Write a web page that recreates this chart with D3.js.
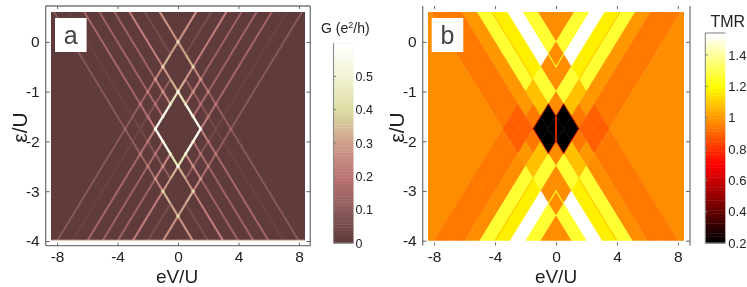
<!DOCTYPE html>
<html><head><meta charset="utf-8">
<script src="https://cdn.jsdelivr.net/npm/d3@7"></script>
<style>
html,body{margin:0;padding:0;background:#fff}
svg{display:block;filter:blur(.3px)}
svg text{font-family:"Liberation Sans",Arial,sans-serif;fill:#222}
</style></head><body><svg id="c" width="747" height="287"></svg>
<script>
// ---------- data ----------
const voltageTicks = [-8,-4,0,4,8];
const energyTicks  = [0,-1,-2,-3,-4];
const conductanceTicks = [0,0.1,0.2,0.3,0.4,0.5];
const tmrTicks = [0.2,0.4,0.6,0.8,1,1.2,1.4];
// transition lines: eps +- eV/2 = c
const lineOffsets = [0,-0.5,-1,-1.5,-2,-2.5,-3,-3.5];
// conductance along each transition line, one value per band between the crossing family's offsets
const gLine0 = [.24,.27,.30,.22,.15,.12,.10,.09,.08];
const gLine1 = [.05,0,0,.10,.10,.07,.04,.03,.02];
const gLine2 = [.20,.25,.30,.40,.50,.52,.20,.15,.13];
const gLine3 = [.12,.20,.22,0,0,0,.15,.14,.12];
const gLine4 = [.12,.14,.15,0,0,0,.22,.20,.12];
const gLine5 = [.13,.15,.20,.52,.50,.40,.30,.25,.20];
const gLine6 = [.02,.03,.04,.07,.10,.10,0,0,.05];
const gLine7 = [.08,.09,.10,.12,.15,.22,.30,.27,.24];
// TMR in each rhomboid cell (upper triangle; rows = band of eps-eV/2, columns = band of eps+eV/2)
const tmrRow0 = [.98,1.27,1.54,1.175,1.27,1.0,.94,.94,.98];
const tmrRow1 = [.98,.98,1.27,1.08,1.0,.89,.89,.94];
const tmrRow2 = [.98,1.27,1.08,.94,.89,.89,.94];
const tmrRow3 = [.98,.2,.2,.94,1.0,.98];
const tmrRow4 = [.2,.2,1.08,1.08,1.27];
const tmrRow5 = [.98,1.27,1.27,1.175];
const tmrRow6 = [.98,.98,1.54];
const tmrRow7 = [.98,1.27];
const tmrRow8 = [.98];
// thin features of the TMR map: [line family, offset, from, to, TMR]
const tmrThin = [
 ['p',-.5,0,-.5,1.25],['q',-3,-3,-3.5,1.25],
 ['p',-1.5,9,0,1.1],['q',-2,-3.5,-14,1.1],
 ['q',-1,-1.5,-2.5,.62],['p',-2.5,-1,-2,.62],['p',-1.5,-1,-1.5,.62],['q',-2,-2,-2.5,.62]
];
const tmrGap = [[-1.5,-2,.8]];

// ---------- colour scales ----------
const gColor = d3.scaleLinear().domain([0,.1,.2,.3,.4,.5,.6])
  .range(['#603b3b','#8e5c5c','#bc7474','#cfa08c','#dcdca2','#f2f2d2','#ffffff']);
const hot = t=>{const r=Math.min(1,t/.375),g=Math.max(0,Math.min(1,(t-.375)/.375)),b=Math.max(0,Math.min(1,(t-.75)/.25));
  return d3.rgb(r*255,g*255,b*255).formatHex();};
const tmrT = d3.scaleLinear().domain([.2,1.54]).range([0,1]).clamp(true);
const tColor = v=>hot(tmrT(v));

// ---------- layout ----------
const svg = d3.select('#c');
const defs = svg.append('defs');
const blur=(id,s)=>defs.append('filter').attr('id',id).attr('x','-5%').attr('y','-5%').attr('width','110%').attr('height','110%')
  .attr('filterUnits','objectBoundingBox').append('feGaussianBlur').attr('stdDeviation',s);
blur('ba',.55); blur('bb',.35);
const gRows=[gLine0,gLine1,gLine2,gLine3,gLine4,gLine5,gLine6,gLine7];
const tRows=[tmrRow0,tmrRow1,tmrRow2,tmrRow3,tmrRow4,tmrRow5,tmrRow6,tmrRow7,tmrRow8];
const FAR_HI=9, FAR_LO=-14;
const bandTop=i=> i===0?FAR_HI:lineOffsets[i-1];
const bandBot=i=> i===lineOffsets.length?FAR_LO:lineOffsets[i];

function panel(o){
  const x=d3.scaleLinear().domain([-8.4,8.4]).range([o.x0,o.x1]);
  const y=d3.scaleLinear().domain([-4,.6]).range([o.y1,o.y0]);
  // p = eps+V/2, q = eps-V/2
  const px=(p,q)=>x(p-q), py=(p,q)=>y((p+q)/2);
  const g=svg.append('g');
  defs.append('clipPath').attr('id','clip'+o.id).append('rect')
    .attr('x',o.x0).attr('y',o.y0).attr('width',o.x1-o.x0).attr('height',o.y1-o.y0);
  const plot=g.append('g').attr('clip-path',`url(#clip${o.id})`).append('g').attr('filter',`url(#b${o.id})`);
  o.draw(plot,px,py,x,y);
  // frame
  const fr=g.append('g').attr('fill','none').attr('stroke','#777').attr('stroke-width',1.3);
  const L=o.fx0,R=o.fx1,T=o.fy0,B=o.fy1;
  fr.append('line').attr('x1',L).attr('x2',L).attr('y1',T).attr('y2',B);
  fr.append('line').attr('x1',R).attr('x2',R).attr('y1',T).attr('y2',B);
  if(o.hlines){fr.append('line').attr('x1',L).attr('x2',R).attr('y1',T).attr('y2',T);
    fr.append('line').attr('x1',L).attr('x2',R).attr('y1',B).attr('y2',B);}
  const hy=d3.format('d');
  const fmt=d=>hy(d).replace('\u2212','-');
  const ax=(gen,tx,ty,labels)=>{const s=g.append('g').attr('transform',`translate(${tx},${ty})`).call(gen);
    s.select('.domain').remove(); s.selectAll('line').attr('stroke','#666').attr('stroke-width',1);
    s.selectAll('text').style('font-size',o.tickFont+'px'); if(!labels) s.selectAll('text').remove(); return s;};
  ax(d3.axisBottom(x).tickValues(voltageTicks).tickSize(-3).tickPadding(5).tickFormat(fmt),0,B,true);
  ax(d3.axisTop(x).tickValues(voltageTicks).tickSize(-3),0,T,false);
  ax(d3.axisLeft(y).tickValues(energyTicks).tickSize(-4).tickPadding(6).tickFormat(fmt),L,0,true);
  ax(d3.axisRight(y).tickValues(energyTicks).tickSize(-4),R,0,false);
  // panel label
  g.append('rect').attr('x',o.lx).attr('y',18).attr('width',31.6).attr('height',34).attr('fill','#fff');
  g.append('text').attr('x',o.lx+15.8).attr('y',44).attr('text-anchor','middle').style('font-size','25px').style('fill','#444').text(o.id==='a'?'a':'b');
  g.append('text').attr('x',o.tx).attr('y',283).attr('text-anchor','middle').style('font-size','19px').text('eV/U');
  g.append('text').attr('transform',`translate(${o.ty},127.5) rotate(-90)`).attr('text-anchor','middle').style('font-size','21px').text('ε/U');
}

// panel a
panel({id:'a',x0:51,x1:305,y0:12,y1:241,fx0:45.7,fx1:310.3,fy0:6,fy1:245.7,hlines:true,tickFont:15.5,lx:55,tx:177,ty:27,
 draw(plot,px,py,x,y){
  plot.append('rect').attr('x',40).attr('y',0).attr('width',280).attr('height',260).attr('fill',gColor(0));
  const segs=[];
  gRows.forEach((row,k)=>row.forEach((G,i)=>{ if(G<=0) return;
     segs.push({G,p:lineOffsets[k],a:bandTop(i),b:bandBot(i),flip:false});
     segs.push({G,p:lineOffsets[k],a:bandTop(i),b:bandBot(i),flip:true});}));
  segs.sort((m,n)=>m.G-n.G);
  plot.selectAll('line.s').data(segs).join('line').attr('class','s')
    .attr('x1',d=>d.flip?px(d.a,d.p):px(d.p,d.a)).attr('y1',d=>py(d.p,d.a))
    .attr('x2',d=>d.flip?px(d.b,d.p):px(d.p,d.b)).attr('y2',d=>py(d.p,d.b))
    .attr('stroke',d=>gColor(d.G*1.1)).attr('stroke-width',d=>1.9+d.G*.9);
  // brighter crossings
  const nodes=[];
  lineOffsets.forEach((p,k)=>lineOffsets.forEach((q,m)=>{
    const s=(gRows[k][m]+gRows[k][m+1])/2+(gRows[m][k]+gRows[m][k+1])/2;
    if(Math.min(gRows[k][m]+gRows[k][m+1],gRows[m][k]+gRows[m][k+1])>.1) nodes.push({p,q,s});}));
  nodes.sort((m,n)=>m.s-n.s);
  plot.selectAll('circle').data(nodes).join('circle').attr('cx',d=>px(d.p,d.q)).attr('cy',d=>py(d.p,d.q))
    .attr('r',1.6).attr('fill',d=>gColor(Math.min(.6,d.s*.85)));
  plot.append('line').datum(-4).attr('x1',40).attr('x2',320).attr('y1',d=>y(d)-.5).attr('y2',d=>y(d)-.5)
    .attr('stroke','#e6c8bc').attr('stroke-width',1.4);
 }});

// panel b
panel({id:'b',x0:428,x1:684,y0:12,y1:240.7,fx0:422.7,fx1:690,fy0:6,fy1:245.5,hlines:false,tickFont:15.5,lx:431.7,tx:556,ty:404,
 draw(plot,px,py,x,y){
  const cells=[];
  tRows.forEach((row,i)=>row.forEach((v,n)=>{const j=i+n;
    cells.push({i,j,v}); if(i!==j) cells.push({i:j,j:i,v});}));
  plot.selectAll('polygon').data(cells).join('polygon')
    .attr('points',d=>{const qa=bandTop(d.i),qb=bandBot(d.i),pa=bandTop(d.j),pb=bandBot(d.j);
      return [[pa,qa],[pb,qa],[pb,qb],[pa,qb]].map(([p,q])=>[px(p,q),py(p,q)].join(',')).join(' ');})
    .attr('fill',d=>tColor(d.v)).attr('stroke',d=>tColor(d.v)).attr('stroke-width',.5);
  const thin=[];
  tmrThin.forEach(([f,c,a,b,v])=>{
    const pts=f==='p'?[[c,a],[c,b]]:[[a,c],[b,c]];
    thin.push({pts,v}); thin.push({pts:pts.map(([p,q])=>[q,p]),v});});
  plot.selectAll('line.t').data(thin).join('line').attr('class','t')
    .attr('x1',d=>px(...d.pts[0])).attr('y1',d=>py(...d.pts[0]))
    .attr('x2',d=>px(...d.pts[1])).attr('y2',d=>py(...d.pts[1]))
    .attr('stroke',d=>tColor(d.v)).attr('stroke-width',d=>d.v<.7?.8:1.1).attr('stroke-linecap','round');
  plot.selectAll('line.g').data(tmrGap).join('line').attr('class','g')
    .attr('x1',d=>px(d[0],d[0])).attr('y1',d=>py(d[0],d[0]))
    .attr('x2',d=>px(d[1],d[1])).attr('y2',d=>py(d[1],d[1]))
    .attr('stroke',d=>tColor(d[2])).attr('stroke-width',1.6);
 }});

// colour bars
function colorbar(o){
  const y=d3.scaleLinear().domain(o.domain).range([o.y1,o.y0]);
  const g=svg.append('g');
  const levels=d3.range(64).map(i=>o.domain[0]+(o.domain[1]-o.domain[0])*i/63);
  const h=(o.y1-o.y0)/64;
  g.selectAll('rect').data(levels).join('rect')
    .attr('x',o.x0).attr('width',o.x1-o.x0)
    .attr('y',(d,i)=>o.y1-(i+1)*h).attr('height',h+.4).attr('fill',o.color);
  const a=d3.axisRight(y).tickValues(o.ticks).tickSize(0).tickPadding(o.pad).tickFormat(d=>d3.format('~g')(d));
  const s=g.append('g').attr('transform',`translate(${o.x1},0)`).call(a);
  s.select('.domain').remove();
  s.selectAll('text').style('font-size',o.font+'px');
  g.append('g').selectAll('line').data(o.ticks).join('line')
    .attr('x1',o.x0).attr('x2',o.x0+2.5).attr('y1',y).attr('y2',y).attr('stroke','#777');
  const f=g.append('g').attr('stroke','#888').attr('stroke-width',1.1);
  f.append('line').attr('x1',o.x0).attr('x2',o.x0).attr('y1',o.y0).attr('y2',o.y1);
  f.append('line').attr('x1',o.x0).attr('x2',o.x1).attr('y1',o.y1).attr('y2',o.y1);
  f.append('line').attr('x1',o.x0).attr('x2',o.x1).attr('y1',o.y0).attr('y2',o.y0).attr('stroke',o.topStroke);
}
colorbar({x0:333.5,x1:353.5,y0:43,y1:243,domain:[0,.6],ticks:conductanceTicks,color:d=>gColor(d),pad:2,font:12.5,topStroke:'#f4f4f4'});
colorbar({x0:705.3,x1:725.3,y0:33,y1:243,domain:[.2,1.54],ticks:tmrTicks,color:d=>tColor(d),pad:3,font:13,topStroke:'#888'});
const gl=svg.append('text').attr('x',321).attr('y',32.5).style('font-size','14px');
gl.append('tspan').text('G (e');
gl.append('tspan').attr('dy',-5).style('font-size','9px').text('2');
gl.append('tspan').attr('dy',5).text('/h)');
svg.append('text').attr('x',710.5).attr('y',26.5).style('font-size','16px').text('TMR');
</script></body></html>
